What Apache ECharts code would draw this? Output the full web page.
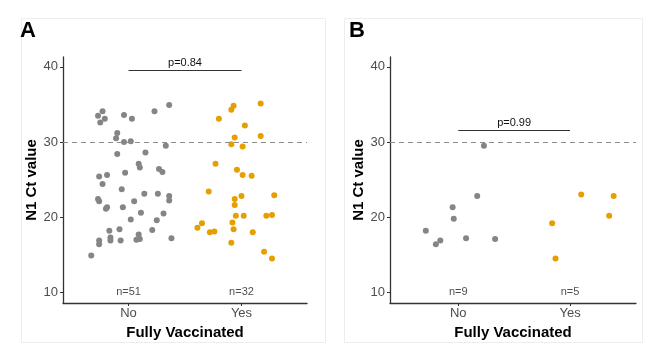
<!DOCTYPE html>
<html>
<head>
<meta charset="utf-8">
<script src="https://cdn.jsdelivr.net/npm/echarts@6/dist/echarts.min.js"></script>
<style>
  html, body { margin: 0; padding: 0; background: #fff; }
  #chart { width: 646px; height: 352px; }
</style>
</head>
<body>
<div id="chart"></div>
<script>
// categories / ticks
var groups = ["No", "Yes"];
var yTicks = [10, 20, 30, 40];
var cutoff = 30;

// panel A - not vaccinated (jittered x, Ct value)
var aNoX = [0.73, 0.77, 0.75, 0.79, 0.96, 1.03, 1.23, 1.36, 0.90, 0.89, 0.96, 1.02, 1.33, 1.15, 0.90,
  1.09, 1.10, 1.27, 1.30, 0.97, 0.81, 0.74, 0.77, 0.94, 1.14, 1.26, 1.36, 1.36, 0.73, 0.74, 1.05,
  0.80, 0.81, 0.95, 1.11, 1.31, 1.02, 1.25, 0.83, 0.92, 1.21, 1.09, 0.74, 0.74, 0.84, 0.84, 0.93,
  1.07, 1.10, 1.38, 0.67];
var aNoY = [33.5, 34.1, 32.6, 33.1, 33.6, 33.1, 34.1, 34.9, 31.2, 30.5, 30.0, 30.1, 29.5, 28.6, 28.4,
  27.1, 26.6, 26.4, 26.0, 25.9, 25.6, 25.4, 24.4, 23.7, 23.1, 23.1, 22.8, 22.2, 22.4, 22.1, 22.1,
  21.1, 21.3, 21.3, 20.6, 20.5, 19.7, 19.6, 18.2, 18.4, 18.3, 17.7, 16.9, 16.4, 17.3, 16.9, 16.9,
  17.0, 17.1, 17.2, 14.9];
// panel A - fully vaccinated
var aYesX = [1.93, 1.91, 2.17, 1.80, 2.03, 1.94, 2.17, 1.91, 2.01, 1.77, 1.96, 2.01, 2.09, 1.71, 2.00, 2.29,
  1.94, 1.94, 1.95, 2.02, 2.22, 2.27, 1.92, 1.93, 1.61, 1.65, 1.72, 1.76, 2.10, 1.91, 2.20, 2.27];
var aYesY = [34.8, 34.3, 35.1, 33.1, 32.2, 30.6, 30.8, 29.7, 29.4, 27.1, 26.3, 25.6, 25.5, 23.4, 22.8, 22.9,
  22.4, 21.6, 20.2, 20.2, 20.2, 20.3, 19.3, 18.4, 18.6, 19.2, 18.0, 18.1, 18.0, 16.6, 15.4, 14.5];

// panel B
var bNoX = [1.23, 1.17, 0.95, 0.96, 0.71, 0.84, 0.80, 1.07, 1.33];
var bNoY = [29.5, 22.8, 21.3, 19.8, 18.2, 16.9, 16.4, 17.2, 17.1];
var bYesX = [2.10, 2.39, 2.35, 1.84, 1.87];
var bYesY = [23.0, 22.8, 20.2, 19.2, 14.5];

var pValues = ["p=0.84", "p=0.99"];
var bracketY = [39.5, 31.5];
var counts = [["n=51", "n=32"], ["n=9", "n=5"]];

var FONT = "Liberation Sans, Arial, sans-serif";
var GREY = "#858585";
var ORANGE = "#E69F00";
var AXIS = "#333333";

function pts(xs, ys) {
  return xs.map(function (x, i) { return [x, ys[i]]; });
}

var grids = [
  { left: 63, top: 57, width: 244, height: 246 },
  { left: 390, top: 57, width: 246, height: 246 }
];
var xRange = [[0.42, 2.58], [0.39, 2.59]];

var xAxes = [], yAxes = [], series = [];

[0, 1].forEach(function (p) {
  xAxes.push({
    type: "value", gridIndex: p, min: xRange[p][0], max: xRange[p][1],
    name: "Fully Vaccinated", nameLocation: "middle", nameGap: 17,
    nameTextStyle: { fontFamily: FONT, fontWeight: "bold", fontSize: 15, color: "#000" },
    axisLine: { show: true, lineStyle: { color: AXIS, width: 1.3 } },
    axisTick: { show: true, length: 3, customValues: [1, 2], lineStyle: { color: AXIS } },
    axisLabel: {
      customValues: [1, 2], margin: 4, fontFamily: FONT, fontSize: 13, color: "#4d4d4d",
      formatter: function (v) { return groups[Math.round(v) - 1]; }
    },
    splitLine: { show: false }
  });
  yAxes.push({
    type: "value", gridIndex: p, min: 8.58, max: 41.3,
    name: "N1 Ct value", nameLocation: "middle", nameGap: 24, nameRotate: 90,
    nameTextStyle: { fontFamily: FONT, fontWeight: "bold", fontSize: 15, color: "#000" },
    axisLine: { show: true, lineStyle: { color: AXIS, width: 1.3 } },
    axisTick: { show: true, length: 3, customValues: yTicks, lineStyle: { color: AXIS } },
    axisLabel: { customValues: yTicks, margin: 5, fontFamily: FONT, fontSize: 13, color: "#4d4d4d" },
    splitLine: { show: false }
  });
});

var panelData = [
  [pts(aNoX, aNoY), pts(aYesX, aYesY)],
  [pts(bNoX, bNoY), pts(bYesX, bYesY)]
];

[0, 1].forEach(function (p) {
  series.push({
    type: "scatter", xAxisIndex: p, yAxisIndex: p, data: panelData[p][0],
    symbolSize: 6, itemStyle: { color: GREY, opacity: 1 }, z: 3,
    markLine: {
      silent: true, symbol: "none", animation: false,
      data: [
        { yAxis: cutoff, lineStyle: { color: "#8c8c8c", type: [5, 4], width: 1 }, label: { show: false } },
        [
          { coord: [1, bracketY[p]], lineStyle: { color: "#333", type: "solid", width: 1.2 },
            label: { show: true, position: "middle", formatter: pValues[p], distance: 2,
              fontFamily: FONT, fontSize: 11, color: "#111" } },
          { coord: [2, bracketY[p]] }
        ]
      ]
    }
  });
  series.push({
    type: "scatter", xAxisIndex: p, yAxisIndex: p, data: panelData[p][1],
    symbolSize: 6, itemStyle: { color: ORANGE, opacity: 1 }, z: 3
  });
  series.push({
    type: "scatter", xAxisIndex: p, yAxisIndex: p, symbolSize: 0, silent: true,
    data: [[1, 10, counts[p][0]], [2, 10, counts[p][1]]],
    label: {
      show: true, position: "inside", fontFamily: FONT, fontSize: 11, color: "#222",
      formatter: function (d) { return d.value[2]; }
    }
  });
});

var chart = echarts.init(document.getElementById("chart"), null, { renderer: "canvas" });
chart.setOption({
  animation: false,
  backgroundColor: "#fff",
  grid: grids,
  xAxis: xAxes,
  yAxis: yAxes,
  series: series,
  graphic: [
    { type: "rect", left: 19, top: 16, shape: { width: 304, height: 324 },
      style: { fill: "none", stroke: "#ededed", lineWidth: 1 }, z: -1 },
    { type: "rect", left: 342, top: 16, shape: { width: 298, height: 324 },
      style: { fill: "none", stroke: "#ededed", lineWidth: 1 }, z: -1 },
    { type: "text", left: 20, top: 20,
      style: { text: "A", font: "bold 22px " + FONT, fill: "#000" } },
    { type: "text", left: 349, top: 20,
      style: { text: "B", font: "bold 22px " + FONT, fill: "#000" } }
  ]
});
</script>
</body>
</html>
